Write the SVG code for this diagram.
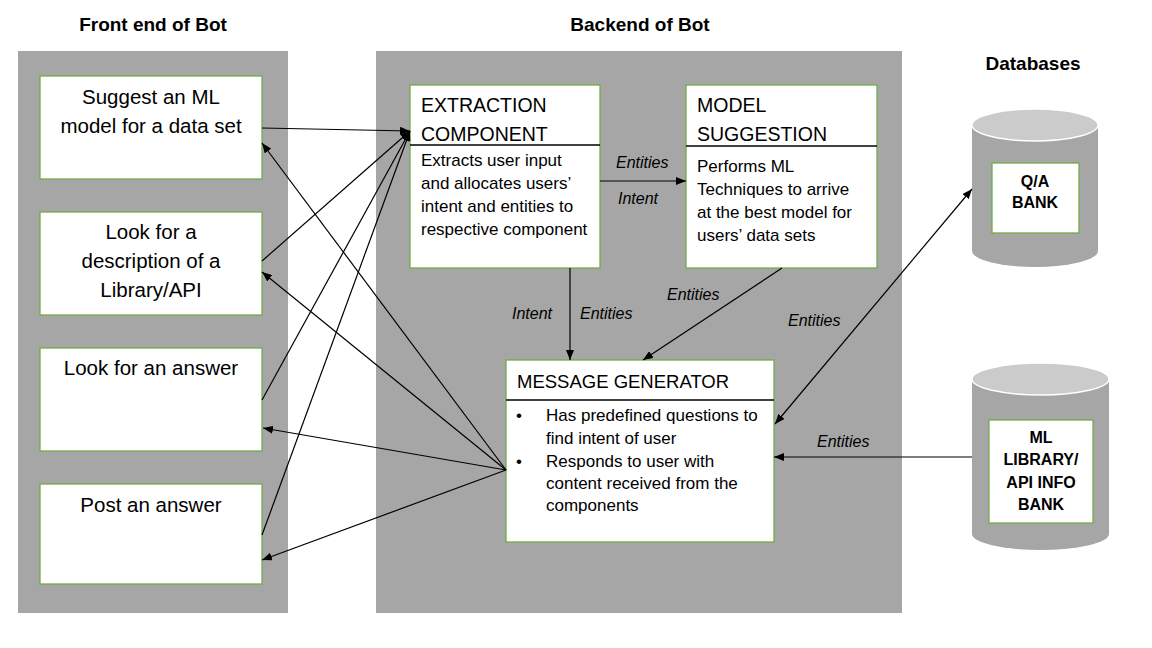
<svg xmlns="http://www.w3.org/2000/svg" width="1152" height="648" viewBox="0 0 1152 648">
<defs>
<marker id="ah" viewBox="0 0 10 8" refX="10" refY="4" markerWidth="10" markerHeight="8" markerUnits="userSpaceOnUse" orient="auto-start-reverse">
<path d="M0,0 L10,4 L0,8 z" fill="#000"/>
</marker>
<style>
.panel{fill:#a6a6a6}
.box{fill:#fff;stroke:#70ad47;stroke-width:1.3}
.div{stroke:#000;stroke-width:1.3}
.ln{stroke:#000;stroke-width:1.2;fill:none}
.arr{marker-end:url(#ah)}
.t{font-family:"Liberation Sans",Arial,sans-serif;fill:#000}
.title{font-size:19px;font-weight:bold;text-anchor:middle}
.fe{font-size:20.5px;text-anchor:middle}
.hd{font-size:19.5px}
.body{font-size:17px}
.lab{font-size:16px;font-style:italic}
.db{font-size:16px;font-weight:bold;text-anchor:middle}
.cyl{fill:#a6a6a6}
.cyltop{fill:#cbcbcb;stroke:#fff;stroke-width:1.5}
</style>
</defs>
<rect width="1152" height="648" fill="#fff"/>

<text class="t title" x="153" y="31">Front end of Bot</text>
<text class="t title" x="640" y="31">Backend of Bot</text>
<text class="t title" x="1033" y="70">Databases</text>

<rect class="panel" x="18" y="51" width="270" height="562"/>
<rect class="panel" x="376" y="51" width="526" height="562"/>

<g id="fe-suggest">
<rect class="box" x="40" y="76" width="222" height="103"/>
<text class="t fe" x="151" y="104">Suggest an ML</text>
<text class="t fe" x="151" y="133">model for a data set</text>
</g>
<g id="fe-describe">
<rect class="box" x="40" y="212" width="222" height="103"/>
<text class="t fe" x="151" y="239">Look for a</text>
<text class="t fe" x="151" y="268">description of a</text>
<text class="t fe" x="151" y="297">Library/API</text>
</g>
<g id="fe-lookanswer">
<rect class="box" x="40" y="348" width="222" height="103"/>
<text class="t fe" x="151" y="375">Look for an answer</text>
</g>
<g id="fe-post">
<rect class="box" x="40" y="484" width="222" height="100"/>
<text class="t fe" x="151" y="512">Post an answer</text>
</g>

<g id="extraction">
<rect class="box" x="410" y="85" width="190" height="183"/>
<line class="div" x1="410" y1="145" x2="600" y2="145"/>
<text class="t hd" x="421" y="112">EXTRACTION</text>
<text class="t hd" x="421" y="141">COMPONENT</text>
<text class="t body" x="421" y="166">Extracts user input</text>
<text class="t body" x="421" y="189">and allocates users’</text>
<text class="t body" x="421" y="212">intent and entities to</text>
<text class="t body" x="421" y="235">respective component</text>
</g>

<g id="model-suggestion">
<rect class="box" x="686" y="85" width="191" height="183"/>
<line class="div" x1="686" y1="146" x2="877" y2="146"/>
<text class="t hd" x="697" y="112">MODEL</text>
<text class="t hd" x="697" y="141">SUGGESTION</text>
<text class="t body" x="697" y="172">Performs ML</text>
<text class="t body" x="697" y="195">Techniques to arrive</text>
<text class="t body" x="697" y="218">at the best model for</text>
<text class="t body" x="697" y="241">users’ data sets</text>
</g>

<g id="message-generator">
<rect class="box" x="506" y="360" width="268" height="182"/>
<line class="div" x1="506" y1="400" x2="774" y2="400"/>
<text class="t" x="517" y="388" style="font-size:18.5px">MESSAGE GENERATOR</text>
<text class="t body" x="516" y="421">•</text>
<text class="t body" x="546" y="421">Has predefined questions to</text>
<text class="t body" x="546" y="444">find intent of user</text>
<text class="t body" x="516" y="467">•</text>
<text class="t body" x="546" y="467">Responds to user with</text>
<text class="t body" x="546" y="489">content received from the</text>
<text class="t body" x="546" y="511">components</text>
</g>

<g id="qa-bank">
<rect class="cyl" x="972" y="125" width="126" height="126"/>
<ellipse class="cyl" cx="1035" cy="251" rx="63" ry="16"/>
<ellipse class="cyltop" cx="1035" cy="125" rx="63" ry="16"/>
<rect class="box" x="992" y="163" width="87" height="70"/>
<text class="t db" x="1035" y="187">Q/A</text>
<text class="t db" x="1035" y="208">BANK</text>
</g>

<g id="ml-library-bank">
<rect class="cyl" x="972" y="379" width="137" height="155"/>
<ellipse class="cyl" cx="1040.5" cy="534" rx="68.5" ry="16"/>
<ellipse class="cyltop" cx="1040.5" cy="379" rx="68.5" ry="16"/>
<rect class="box" x="989" y="420" width="104" height="103"/>
<text class="t db" x="1041" y="443">ML</text>
<text class="t db" x="1041" y="465">LIBRARY/</text>
<text class="t db" x="1041" y="488">API INFO</text>
<text class="t db" x="1041" y="510">BANK</text>
</g>

<g id="connectors">
<line class="ln arr" x1="262" y1="128" x2="410" y2="131"/>
<line class="ln arr" x1="262" y1="261" x2="410" y2="131"/>
<line class="ln arr" x1="262" y1="400" x2="410" y2="131"/>
<line class="ln arr" x1="262" y1="535" x2="410" y2="131"/>

<line class="ln arr" x1="506" y1="470" x2="262" y2="143"/>
<line class="ln arr" x1="506" y1="470" x2="262" y2="272"/>
<line class="ln arr" x1="506" y1="470" x2="263" y2="428"/>
<line class="ln arr" x1="506" y1="470" x2="262" y2="560"/>

<line class="ln arr" x1="600" y1="181" x2="686" y2="181"/>
<line class="ln arr" x1="570" y1="268" x2="570" y2="360"/>
<line class="ln arr" x1="782" y1="268" x2="643" y2="360"/>
<line class="ln arr" x1="775" y1="424" x2="972" y2="189" style="marker-start:url(#ah)"/>
<line class="ln arr" x1="972" y1="457" x2="774" y2="457"/>

<text class="t lab" x="616" y="168">Entities</text>
<text class="t lab" x="618" y="204">Intent</text>
<text class="t lab" x="512" y="319">Intent</text>
<text class="t lab" x="580" y="319">Entities</text>
<text class="t lab" x="667" y="300">Entities</text>
<text class="t lab" x="788" y="326">Entities</text>
<text class="t lab" x="817" y="447">Entities</text>
</g>
</svg>
